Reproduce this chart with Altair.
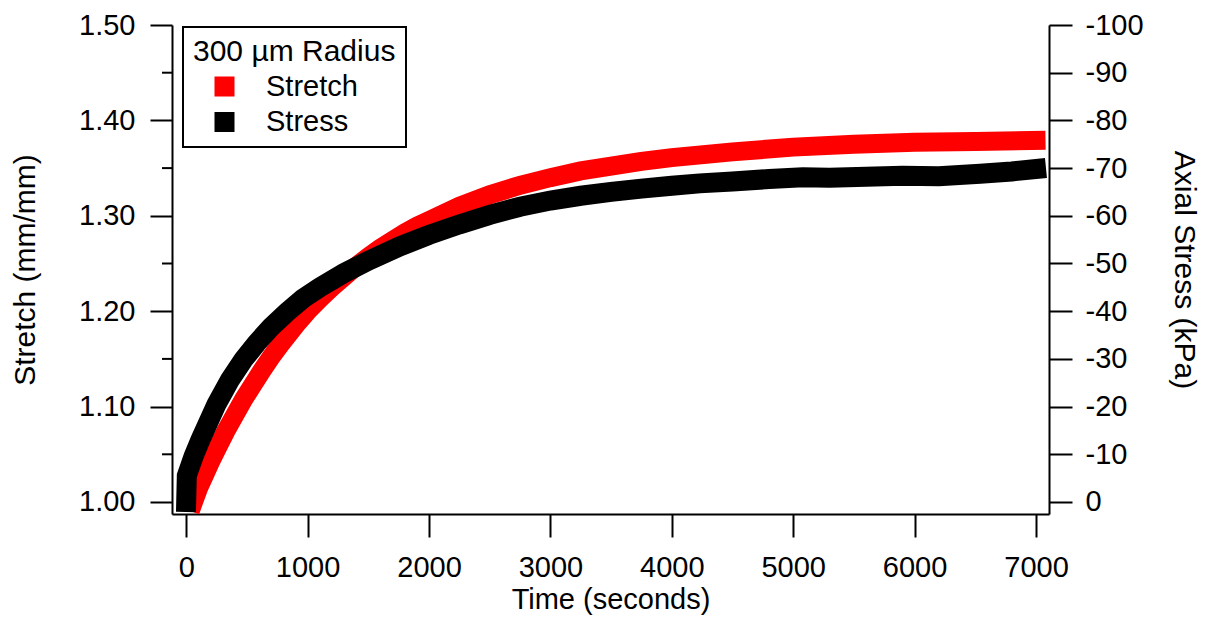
import altair as alt
import pandas as pd

# ---- data ----
series_names = ["Stretch", "Stress"]
series_colors = ["#ff0000", "#000000"]

stretch_time = [60, 100, 150, 200, 250, 325, 400, 475, 550, 625, 700, 775, 850, 925, 1000,
                1100, 1200, 1300, 1400, 1500, 1600, 1700, 1800, 1900, 2000, 2250,
                2500, 2750, 3000, 3250, 3500, 3750, 4000, 4500, 5000, 5500, 6000, 6500, 7000]
stretch_val = [1.000, 1.014, 1.028, 1.042, 1.055, 1.074, 1.091, 1.108, 1.123, 1.138, 1.152,
               1.165, 1.177, 1.189, 1.200, 1.213, 1.225, 1.236, 1.247, 1.257, 1.266, 1.274,
               1.282, 1.289, 1.295, 1.310, 1.322, 1.332, 1.340, 1.347, 1.352, 1.357, 1.361,
               1.367, 1.372, 1.375, 1.377, 1.378, 1.379]

stress_time = [0, 5, 60, 120, 170, 250, 360, 470, 580, 700, 830, 960, 1100, 1300, 1510, 1760,
               2000, 2250, 2500, 2750, 3000, 3250, 3500, 3750, 4000, 4230, 4500, 4800, 5080,
               5300, 5600, 5900, 6200, 6540, 6800, 7000]
stress_val = [0, -5.5, -9.5, -13.2, -16.0, -20.5, -25.6, -29.8, -33.3, -36.7, -39.8, -42.6,
              -45.0, -48.0, -50.7, -53.6, -56.0, -58.2, -60.2, -61.9, -63.2, -64.2, -65.0,
              -65.7, -66.3, -66.8, -67.2, -67.7, -68.1, -68.0, -68.2, -68.4, -68.3, -68.8,
              -69.3, -69.8]

x_ticks = [0, 1000, 2000, 3000, 4000, 5000, 6000, 7000]
left_major = [1.00, 1.10, 1.20, 1.30, 1.40, 1.50]
left_minor = [1.05, 1.15, 1.25, 1.35, 1.45]
right_ticks = [0, -10, -20, -30, -40, -50, -60, -70, -80, -90, -100]

FONT = "Liberation Sans"

red_df = pd.DataFrame({"time": stretch_time, "stretch": stretch_val, "series": series_names[0]})
black_df = pd.DataFrame({"time": stress_time, "stress": stress_val, "series": series_names[1]})
minor_df = pd.DataFrame({"stretch": left_minor})

xscale = alt.Scale(domain=[-117, 7107], nice=False, zero=False)
xaxis = alt.Axis(values=x_ticks, format="d", tickSize=23, labelPadding=16,
                 title="Time (seconds)", titleBaseline="alphabetic", titleY=94.5,
                 titleFontSize=29)
yscale = alt.Scale(domain=[0.98742, 1.5], nice=False, zero=False)
yaxis = alt.Axis(values=left_major, format=".2f", tickSize=22, labelPadding=15,
                 titlePadding=38, title="Stretch (mm/mm)")
cscale = alt.Scale(domain=series_names, range=series_colors)

legend_def = alt.Legend(
    title="300 µm Radius", orient="none", legendX=11, legendY=2, direction="vertical",
    strokeColor="black", fillColor="white", padding=10,
    titleFont=FONT, titleFontSize=30, titleFontWeight="normal", titleColor="black",
    titlePadding=5, titleLimit=400, labelFont=FONT, labelFontSize=29, labelColor="black",
    labelLimit=300, symbolType="square", symbolSize=100, symbolStrokeWidth=10,
    symbolOpacity=1, symbolOffset=17, labelOffset=27, rowPadding=5.5, clipHeight=29)

red = alt.Chart(red_df).mark_line(strokeWidth=19, strokeCap="square", strokeJoin="miter").encode(
    x=alt.X("time:Q", scale=xscale, axis=xaxis),
    y=alt.Y("stretch:Q", scale=yscale, axis=yaxis),
    color=alt.Color("series:N", scale=cscale, legend=legend_def),
)
minor = alt.Chart(minor_df).mark_rule(color="black", strokeWidth=2).encode(
    x=alt.value(-10), x2=alt.value(0),
    y=alt.Y("stretch:Q", scale=yscale, axis=yaxis),
)
left = alt.layer(red, minor)

black = alt.Chart(black_df).mark_line(strokeWidth=20, strokeCap="square", strokeJoin="miter").encode(
    x=alt.X("time:Q", scale=xscale, axis=xaxis),
    y=alt.Y("stress:Q",
            scale=alt.Scale(domain=[-100, 2.516], reverse=True, nice=False, zero=False),
            axis=alt.Axis(orient="right", values=right_ticks, tickSize=23, labelPadding=13,
                          titlePadding=25, title="Axial Stress (kPa)",
                          labelExpr="datum.value == 0 ? '\u00a00' : '-' + abs(datum.value)")),
    color=alt.Color("series:N", scale=cscale, legend=legend_def),
)

chart = alt.layer(left, black).resolve_scale(y="independent").properties(
    width=877, height=489,
    autosize=alt.AutoSizeParams(type="none"),
    padding={"left": 164, "top": 17, "right": 153, "bottom": 101},
).configure_view(stroke=None).configure_axis(
    grid=False, domainColor="black", domainWidth=2, tickColor="black", tickWidth=2,
    labelColor="black", titleColor="black", labelFont=FONT, titleFont=FONT,
    labelFontSize=29, titleFontSize=30, titleFontWeight="normal",
    labelFlush=False, labelOverlap=False,
).configure_legend(strokeWidth=2)

chart.save("out.html", embed_options={"renderer": "svg", "actions": False})
